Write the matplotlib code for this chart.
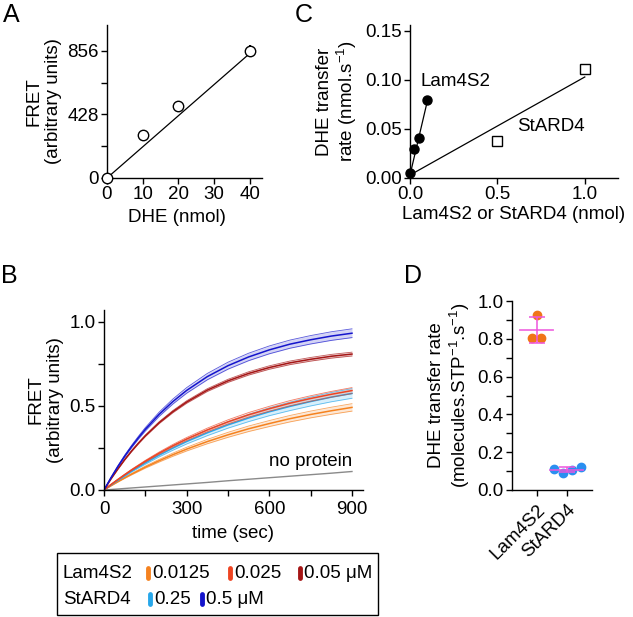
import numpy as np
import matplotlib
matplotlib.use('Agg')
import matplotlib.pyplot as plt
from matplotlib.lines import Line2D
from matplotlib.ticker import MultipleLocator

plt.rcParams['font.family'] = ['Liberation Sans', 'DejaVu Sans']
plt.rcParams['font.size'] = 13.5
plt.rcParams['axes.linewidth'] = 1.0
plt.rcParams['xtick.major.width'] = 1.0
plt.rcParams['ytick.major.width'] = 1.0
plt.rcParams['xtick.minor.width'] = 1.0
plt.rcParams['ytick.minor.width'] = 1.0
plt.rcParams['xtick.major.size'] = 4
plt.rcParams['ytick.major.size'] = 4
plt.rcParams['xtick.minor.size'] = 4
plt.rcParams['ytick.minor.size'] = 4
plt.rcParams['mathtext.default'] = 'regular'

# ---- panel A: FRET calibration ----
dhe_nmol = [0, 10, 20, 40]
fret_au = [0, 288, 485, 858]
fret_err = [0, 0, 0, 35]
fit_a_slope = 21.0

# ---- panel C: transfer rate vs protein ----
lam_nmol = [0, 0.025, 0.05, 0.1]
lam_rate = [0.005, 0.030, 0.041, 0.080]
lam_fit = (0.003, 0.76)        # intercept, slope
star_nmol = [0.5, 1.0]
star_rate = [0.038, 0.111]
star_err = [0, 0.005]
star_fit = (0.003, 0.100)

# ---- panel B: kinetics (mean curves, relative SD band) ----
t_sec = [0, 25, 50, 75, 100, 125, 150, 200, 250, 300, 375, 450, 525, 600, 675, 750, 825, 900]
lam_0125 = [0, 0.025, 0.049, 0.072, 0.094, 0.115, 0.136, 0.174, 0.210, 0.243, 0.288, 0.328,
            0.364, 0.395, 0.424, 0.449, 0.471, 0.491]
lam_025 = [0, 0.032, 0.062, 0.091, 0.119, 0.145, 0.171, 0.219, 0.263, 0.303, 0.357, 0.405,
           0.447, 0.483, 0.516, 0.544, 0.569, 0.591]
lam_05 = [0, 0.065, 0.124, 0.180, 0.231, 0.278, 0.322, 0.400, 0.466, 0.523, 0.594, 0.649,
          0.693, 0.728, 0.756, 0.777, 0.795, 0.808]
star_025 = [0, 0.030, 0.058, 0.085, 0.112, 0.137, 0.161, 0.207, 0.249, 0.288, 0.340, 0.387,
            0.428, 0.465, 0.497, 0.526, 0.552, 0.574]
star_05 = [0, 0.072, 0.139, 0.201, 0.258, 0.311, 0.361, 0.450, 0.526, 0.592, 0.674, 0.739,
           0.791, 0.833, 0.867, 0.893, 0.915, 0.932]
no_protein = [0, 0.003, 0.006, 0.009, 0.012, 0.015, 0.018, 0.024, 0.030, 0.036, 0.045, 0.055,
              0.064, 0.073, 0.082, 0.091, 0.100, 0.110]
rel_sd = {'lam_0125': 0.045, 'lam_025': 0.03, 'lam_05': 0.014,
          'star_025': 0.05, 'star_05': 0.028}

# ---- panel D: rate per protein ----
groups = ['Lam4S2', 'StARD4']
lam_rates = [0.925, 0.805, 0.805]
star_rates = [0.110, 0.090, 0.105, 0.122]

c_orange = '#f5821f'
c_red = '#ee4422'
c_dkred = '#a51515'
c_cyan = '#27a7ea'
c_blue = '#1414cc'
c_mag = '#ee55dd'

W, H = 633, 617
fig = plt.figure(figsize=(W / 100, H / 100), dpi=100)


def px_axes(l, r, t, b):
    return fig.add_axes([l / W, 1 - b / H, (r - l) / W, (b - t) / H])


def style(ax):
    for s in ['top', 'right']:
        ax.spines[s].set_visible(False)
    ax.tick_params(direction='out', pad=2)


# A
axA = px_axes(107, 262, 25, 178)
style(axA)
x = np.array([0, 40])
axA.plot(x, fit_a_slope * x, color='black', lw=0.9)
axA.errorbar(dhe_nmol, fret_au, yerr=fret_err, fmt='o', mfc='white', mec='black',
             ecolor='black', ms=7.5, mew=1.0, capsize=0, clip_on=False, zorder=3)
axA.set_xlim(0, 43.4)
axA.set_ylim(0, 1031)
axA.set_xticks([0, 10, 20, 30, 40])
axA.set_yticks([0, 428, 856])
axA.yaxis.set_minor_locator(MultipleLocator(214))
axA.set_xlabel('DHE (nmol)')
axA.xaxis.set_label_coords(0.45, -0.205)
axA.set_ylabel('FRET\n(arbitrary units)', linespacing=1.15, labelpad=4)

# C
axC = px_axes(410, 618, 25, 178)
style(axC)
xl = np.array([0, 0.1])
axC.plot(xl, lam_fit[0] + lam_fit[1] * xl, color='black', lw=0.9)
xs = np.array([0, 1.0])
axC.plot(xs, star_fit[0] + star_fit[1] * xs, color='black', lw=0.9)
axC.errorbar(star_nmol, star_rate, yerr=star_err, fmt='s', mfc='white', mec='black',
             ecolor='black', ms=6.5, mew=1.0, capsize=0, zorder=3)
axC.plot(lam_nmol, lam_rate, 'o', color='black', ms=6.5, clip_on=False, zorder=4)
axC.set_xlim(0, 1.19)
axC.set_ylim(0, 0.156)
axC.set_xticks([0, 0.5, 1.0])
axC.set_xticklabels(['0.0', '0.5', '1.0'])
axC.set_yticks([0, 0.05, 0.10, 0.15])
axC.set_yticklabels(['0.00', '0.05', '0.10', '0.15'])
axC.text(0.058, 0.098, 'Lam4S2', va='center', ha='left')
axC.text(0.615, 0.053, 'StARD4', va='center', ha='left')
axC.set_xlabel('Lam4S2 or StARD4 (nmol)', labelpad=2)
axC.set_ylabel('DHE transfer\nrate (nmol.s$^{-1}$)', linespacing=1.15, labelpad=4)

# B
axB = px_axes(104, 363, 310, 490)
style(axB)
t = np.array(t_sec)
series = [('lam_0125', lam_0125, c_orange), ('star_025', star_025, c_cyan),
          ('lam_025', lam_025, c_red), ('lam_05', lam_05, c_dkred),
          ('star_05', star_05, c_blue)]
axB.plot(t, no_protein, color='#8a8a8a', lw=1.0)
for key, vals, col in series:
    v = np.array(vals)
    lo = v * (1 - rel_sd[key])
    hi = v * (1 + rel_sd[key])
    axB.fill_between(t, lo, hi, color=col, alpha=0.18, lw=0)
    axB.plot(t, lo, color=col, lw=0.6, alpha=0.7)
    axB.plot(t, hi, color=col, lw=0.6, alpha=0.7)
    axB.plot(t, v, color=col, lw=1.1)
axB.set_xlim(0, 940)
axB.set_ylim(0, 1.07)
axB.set_xticks([0, 300, 600, 900])
axB.xaxis.set_minor_locator(MultipleLocator(150))
axB.set_yticks([0, 0.5, 1.0])
axB.set_yticklabels(['0.0', '0.5', '1.0'])
axB.yaxis.set_minor_locator(MultipleLocator(0.25))
axB.tick_params(axis='x', pad=4)
axB.text(900, 0.17, 'no protein', ha='right', va='center')
axB.set_xlabel('time (sec)', labelpad=5)
axB.set_ylabel('FRET\n(arbitrary units)', linespacing=1.15, labelpad=4)

# B legend (drawn by hand in figure pixels)
box = plt.Rectangle((57 / W, 1 - 615 / H), (378 - 57) / W, (615 - 553) / H,
                    transform=fig.transFigure, fill=False, ec='black', lw=1.0)
fig.add_artist(box)
leg_rows = [
    (573, 'Lam4S2', [(148, c_orange, '0.0125'), (230, c_red, '0.025'),
                     (300, c_dkred, '0.05 \u03bcM')]),
    (599, 'StARD4', [(150, c_cyan, '0.25'), (202, c_blue, '0.5 \u03bcM')]),
]
for yp, name, items in leg_rows:
    fig.text(63 / W, 1 - yp / H, name, ha='left', va='center', fontsize=13.5)
    for xp, col, lab in items:
        fig.add_artist(Line2D([xp / W, xp / W], [1 - (yp - 5) / H, 1 - (yp + 5) / H],
                              transform=fig.transFigure, color=col, lw=3.5,
                              solid_capstyle='round'))
        fig.text((xp + 4) / W, 1 - yp / H, lab, ha='left', va='center', fontsize=13.5)

# D
axD = px_axes(511.7, 591.7, 301, 490)
style(axD)
lam_dx = [0.0, -0.17, 0.14]
star_dx = [-0.44, -0.14, 0.17, 0.47]
axD.plot(np.array(lam_dx), lam_rates, 'o', color='#f07518', ms=6, zorder=2)
axD.plot(1 + np.array(star_dx), star_rates, 'o', color='#2a8ff0', ms=6, zorder=2)
for i, vals in enumerate([lam_rates, star_rates]):
    m = np.mean(vals)
    sd = np.std(vals, ddof=1)
    axD.plot([i - 0.55, i + 0.55], [m, m], color=c_mag, lw=1.3, alpha=0.85, zorder=3)
    axD.errorbar([i], [m], yerr=[sd], color=c_mag, lw=1.3, capsize=6, capthick=1.3,
                 fmt='none', alpha=0.85, zorder=3)
axD.set_xlim(-0.83, 1.83)
axD.set_ylim(0, 1.0)
axD.set_xticks([0, 1])
axD.set_xticklabels(groups, rotation=45, ha='right', rotation_mode='anchor')
axD.tick_params(axis='x', pad=4)
axD.set_yticks(np.arange(0, 1.01, 0.2))
axD.set_yticklabels(['0.0', '0.2', '0.4', '0.6', '0.8', '1.0'])
axD.yaxis.set_minor_locator(MultipleLocator(0.1))
axD.set_ylabel('DHE transfer rate\n(molecules.STP$^{-1}$.s$^{-1}$)', linespacing=1.15,
               labelpad=4)

# panel letters
for lab, xp, yp in [('A', 3, 3), ('C', 295, 3), ('B', 1, 264), ('D', 404, 264)]:
    fig.text(xp / W, 1 - yp / H, lab, ha='left', va='top', fontsize=18)

fig.savefig('out.png', dpi=100)
